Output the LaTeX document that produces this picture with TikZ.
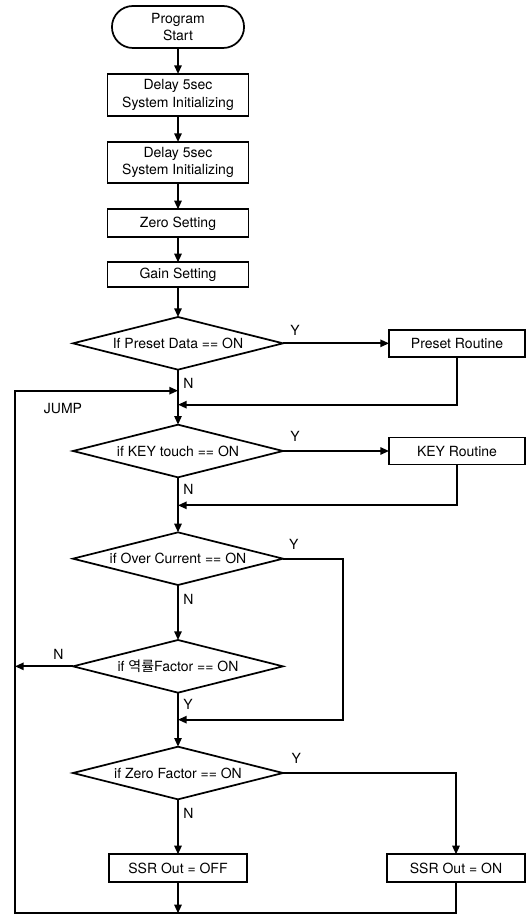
\documentclass[tikz,border=0pt]{standalone}
\usepackage{fontspec}
\setmainfont{TeX Gyre Heros}
\newfontfamily\krfont{Noto Sans CJK KR}
\usepackage{tikz}
\usetikzlibrary{positioning,shapes.geometric,shapes.misc,arrows.meta}

\begin{document}
\begin{tikzpicture}[x=0.75pt, y=-0.75pt,
            every node/.style = {font=\fontsize{10.5}{13}\selectfont, align=center, outer sep=0pt},
            terminal/.style = {shape=rounded rectangle, draw, line width=1.3pt,
                                minimum width=105.75pt, minimum height=31.5pt},
            process/.style = {shape=rectangle, draw, line width=1.3pt,
                                minimum width=105.75pt, minimum height=20pt, inner sep=1pt},
            decision/.style = {shape=diamond, draw, line width=1.3pt, aspect=4, inner sep=0pt,
                                minimum width=157.5pt, minimum height=39.5pt},
            routine/.style = {process, minimum width=102pt, minimum height=20.25pt},
            flow/.style = {draw, line width=1.3pt, -{Triangle[length=6.5pt,width=5.5pt]}},
            tag/.style = {inner sep=1pt}]
    \useasboundingbox (0,0) rectangle (528,919);

    \node[terminal] (start) at (178,27) {Program\\Start};
    \node[process, minimum height=31.5pt, below=19.5pt of start] (init1) {Delay 5sec\\System Initializing};
    \node[process, minimum height=31pt, below=19.5pt of init1] (init2) {Delay 5sec\\System Initializing};
    \node[process, minimum height=21pt, below=19.5pt of init2] (zero) {Zero Setting};
    \node[process, minimum height=18.5pt, below=18.75pt of zero] (gain) {Gain Setting};
    \node[decision, below=22.5pt of gain] (dPreset) {If Preset Data == ON};
    \node[decision, below=41.25pt of dPreset] (dKey) {if KEY touch == ON};
    \node[decision, below=41.25pt of dKey] (dOver) {if Over Current == ON};
    \node[decision, below=41.25pt of dOver] (dFactor) {if {\krfont 역률}Factor == ON};
    \node[decision, below=40.5pt of dFactor] (dZero) {if Zero Factor == ON};
    \node[process, minimum width=103.5pt, minimum height=21pt, below=41.25pt of dZero] (ssrOff) {SSR Out = OFF};
    \node[process, minimum width=103.5pt, minimum height=21pt, right=105pt of ssrOff] (ssrOn) {SSR Out = ON};
    \node[routine, right=79.5pt of dPreset] (preset) {Preset Routine};
    \node[routine, right=79.5pt of dKey] (key) {KEY Routine};

    \coordinate (leftRail) at (15,0);
    \coordinate[below=15.75pt of dPreset.south] (jumpIn);
    \coordinate[below=26.25pt of dPreset.south] (presetIn);
    \coordinate[below=21pt of dKey.south] (keyIn);
    \coordinate[below=20.25pt of dFactor.south] (overIn);
    \coordinate[below=23.25pt of ssrOff.south] (offOut);

    \draw[flow] (start) -- (init1);
    \draw[flow] (init1) -- (init2);
    \draw[flow] (init2) -- (zero);
    \draw[flow] (zero) -- (gain);
    \draw[flow] (gain) -- (dPreset);

    \draw[flow] (dPreset.east) -- (preset.west);
    \draw[flow] (dPreset.south) -- (dKey.north);
    \draw[flow] (preset.south) |- (presetIn);

    \draw[flow] (dKey.east) -- (key.west);
    \draw[flow] (dKey.south) -- (dOver.north);
    \draw[flow] (key.south) |- (keyIn);

    \draw[flow] (dOver.south) -- (dFactor.north);
    \draw[flow] (dOver.east) -- ++(45pt,0) |- (overIn);

    \draw[flow] (dFactor.west) -- (dFactor.west -| leftRail);
    \draw[flow] (dFactor.south) -- (dZero.north);

    \draw[flow] (dZero.east) -| (ssrOn.north);
    \draw[flow] (dZero.south) -- (ssrOff.north);

    \draw[flow] (ssrOff.south) -- (offOut);
    \draw[flow] (ssrOn.south) |- (leftRail |- offOut) -- (leftRail |- jumpIn) -- (jumpIn);

    \node[tag] (yPreset) at ([xshift=9pt,yshift=10pt]dPreset.east) {Y};
    \node[tag] (yKey) at ([xshift=9pt,yshift=11pt]dKey.east) {Y};
    \node[tag] (yOver) at ([xshift=8pt,yshift=10.5pt]dOver.east) {Y};
    \node[tag] (yZero) at ([xshift=10pt,yshift=11pt]dZero.east) {Y};
    \node[tag] (nFactor) at ([xshift=-11pt,yshift=9pt]dFactor.west) {N};
    \node[tag, anchor=west] (nPreset) at ([xshift=3pt,yshift=-10.5pt]dPreset.south) {N};
    \node[tag, anchor=west] (nKey) at ([xshift=3pt,yshift=-9pt]dKey.south) {N};
    \node[tag, anchor=west] (nOver) at ([xshift=3pt,yshift=-11pt]dOver.south) {N};
    \node[tag, anchor=west] (yFactor) at ([xshift=3pt,yshift=-8.5pt]dFactor.south) {Y};
    \node[tag, anchor=west] (nZero) at ([xshift=3pt,yshift=-10.5pt]dZero.south) {N};
    \node[tag] (jumpLbl) at (63,409) {JUMP};
\end{tikzpicture}
\end{document}
